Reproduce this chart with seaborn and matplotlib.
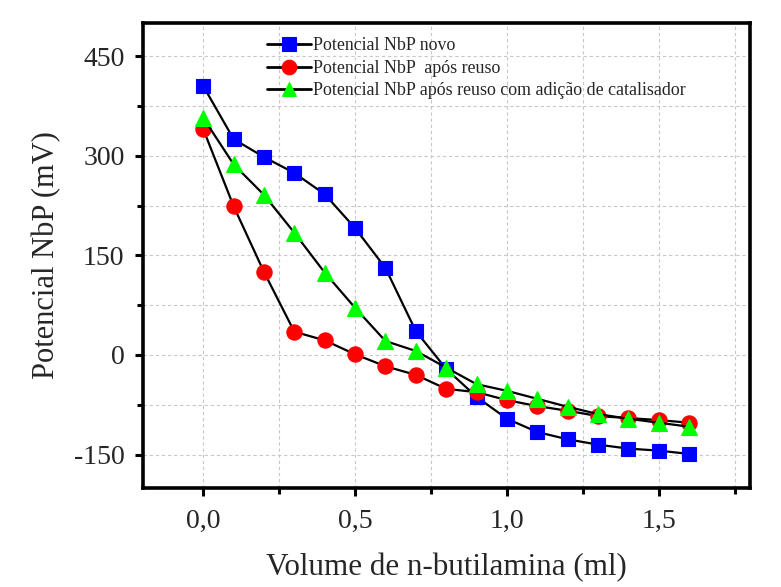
import matplotlib
matplotlib.use("Agg")
import matplotlib.pyplot as plt
import numpy as np
import pandas as pd
import seaborn as sns
from matplotlib.ticker import MultipleLocator, FuncFormatter, FixedLocator

# ---- data ----
volume = [0.0, 0.1, 0.2, 0.3, 0.4, 0.5, 0.6, 0.7, 0.8, 0.9, 1.0, 1.1, 1.2, 1.3, 1.4, 1.5, 1.6]
novo = [405, 325, 298, 274, 242, 191, 131, 36, -21, -63, -96, -116, -127, -135, -141, -144, -149]
reuso = [340, 224, 125, 35, 22, 1, -17, -30, -51, -56, -68, -77, -84, -92, -95, -98, -102]
catalisador = [357, 287, 241, 184, 124, 71, 21, 6, -19, -44, -54, -66, -78, -89, -96, -102, -108]
series_labels = [
    "Potencial NbP novo",
    "Potencial NbP  após reuso",
    "Potencial NbP após reuso com adição de catalisador",
]
x_ticks = [0.0, 0.5, 1.0, 1.5]
y_ticks = [-150, 0, 150, 300, 450]
x_label = "Volume de n-butilamina (ml)"
y_label = "Potencial NbP (mV)"

sns.set_style("white")
plt.rcParams["font.family"] = ["Liberation Serif", "DejaVu Serif"]
plt.rcParams["axes.unicode_minus"] = False

fig = plt.figure(figsize=(7.81, 5.87), dpi=100)
ax = fig.add_axes([0.1825, 0.169, 0.7775, 0.792])

styles = [
    (novo, "s", "#0000ff", 10.5),
    (reuso, "o", "#ff0000", 11.0),
    (catalisador, "^", "#00ff00", 12.0),
]
for (vals, mk, col, ms), lab in zip(styles, series_labels):
    df = pd.DataFrame({"volume": volume, "pot": vals})
    sns.lineplot(data=df, x="volume", y="pot", ax=ax, color="black",
                 linewidth=1.6, marker=mk, markersize=ms,
                 markerfacecolor=col, markeredgecolor=col,
                 markeredgewidth=0.8, label=lab, zorder=3)

ax.set_xlim(-0.2, 1.8)
ax.set_ylim(-200, 500)
ax.xaxis.set_major_locator(FixedLocator(x_ticks))
ax.xaxis.set_minor_locator(MultipleLocator(0.25))
ax.yaxis.set_major_locator(FixedLocator(y_ticks))
ax.yaxis.set_minor_locator(MultipleLocator(75))
ax.xaxis.set_major_formatter(FuncFormatter(lambda v, p: f"{v:.1f}".replace(".", ",")))
ax.yaxis.set_major_formatter(FuncFormatter(lambda v, p: f"{int(round(v))}"))

ax.grid(which="both", linestyle=(0, (3, 2.5)), color="#c8c8c8", linewidth=0.8)
ax.set_axisbelow(True)

for s in ax.spines.values():
    s.set_linewidth(2.6)
    s.set_color("black")
ax.tick_params(which="major", direction="out", length=6, width=2.2,
               labelsize=20, pad=7, color="black", bottom=True, left=True)
ax.tick_params(which="minor", direction="out", length=4, width=2.2,
               color="black", bottom=True, left=True)
ax.tick_params(axis="x", which="major", pad=9)

ax.set_xlabel(x_label, fontsize=22.3, labelpad=14)
ax.set_ylabel(y_label, fontsize=22, labelpad=9)

leg = ax.legend(loc="upper left", bbox_to_anchor=(0.193, 0.984), frameon=False,
                fontsize=12.9, handlelength=2.45, handletextpad=0.12,
                labelspacing=0.3, borderaxespad=0.0)
for h in leg.get_lines():
    h.set_markersize(10.5)
    h.set_linewidth(2.0)

fig.savefig("out.png", dpi=100, facecolor="white")
